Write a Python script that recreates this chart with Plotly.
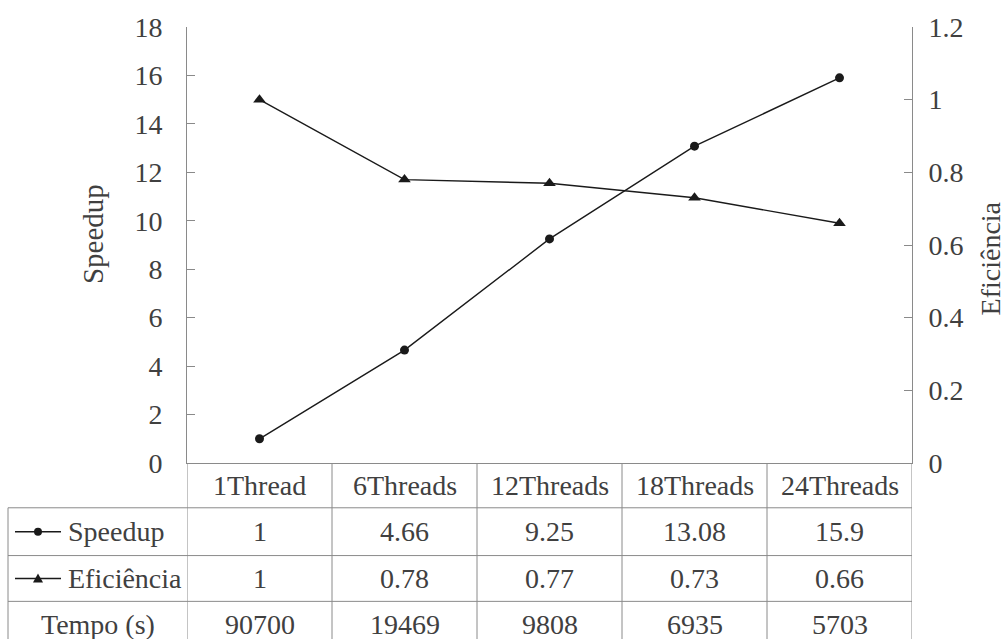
import plotly.graph_objects as go

# ---- data ----
categories = ["1Thread", "6Threads", "12Threads", "18Threads", "24Threads"]
speedup = [1, 4.66, 9.25, 13.08, 15.9]
eficiencia = [1, 0.78, 0.77, 0.73, 0.66]
tempo = [90700, 19469, 9808, 6935, 5703]
speedup_labels = ["1", "4.66", "9.25", "13.08", "15.9"]
eficiencia_labels = ["1", "0.78", "0.77", "0.73", "0.66"]
tempo_labels = ["90700", "19469", "9808", "6935", "5703"]
left_ticks = [0, 2, 4, 6, 8, 10, 12, 14, 16, 18]
right_ticks = [0, 0.2, 0.4, 0.6, 0.8, 1, 1.2]
right_tick_text = ["0", "0.2", "0.4", "0.6", "0.8", "1", "1.2"]

# ---- layout geometry (pixels) ----
W, H = 1007, 639
L, R, T, B = 187, 912, 25, 463
FONT = "Liberation Serif"
TXT = "#404040"
GRID = "#8a8a8a"
LINE = "#1a1a1a"


def px2x(px):
    return (px - L) / (R - L)


def py2y(py):
    return (B - py) / (B - T)


fig = go.Figure()
fig.add_trace(go.Scatter(
    x=categories, y=speedup, mode="lines+markers", name="Speedup",
    line=dict(color=LINE, width=1.4),
    marker=dict(symbol="circle", size=9, color=LINE),
    yaxis="y", showlegend=False, cliponaxis=False))
fig.add_trace(go.Scatter(
    x=categories, y=eficiencia, mode="lines+markers", name="Eficiência",
    line=dict(color=LINE, width=1.4),
    marker=dict(symbol="triangle-up", size=11, color=LINE),
    yaxis="y2", showlegend=False, cliponaxis=False))

shapes = []
annotations = []

# table geometry
row_edges = [B, 508, 556, 602, 648]
table_left = 8
line_style = dict(color=GRID, width=1)

for py in row_edges[1:]:
    shapes.append(dict(type="line", xref="paper", yref="paper",
                       x0=px2x(table_left), x1=1, y0=py2y(py), y1=py2y(py),
                       line=line_style, layer="above"))
shapes.append(dict(type="line", xref="paper", yref="paper",
                   x0=px2x(table_left), x1=px2x(table_left),
                   y0=py2y(row_edges[1]), y1=py2y(row_edges[-1]),
                   line=line_style))
for i in range(len(categories) + 1):
    shapes.append(dict(type="line", xref="x", yref="paper",
                       x0=i - 0.5, x1=i - 0.5,
                       y0=0, y1=py2y(row_edges[-1]),
                       line=line_style))

hdr_y = py2y((row_edges[0] + row_edges[1]) / 2)
for i, c in enumerate(categories):
    annotations.append(dict(x=c, xref="x", y=hdr_y, yref="paper", text=c,
                            showarrow=False, xanchor="center", yanchor="middle",
                            font=dict(family=FONT, size=28, color=TXT)))

rows = [speedup_labels, eficiencia_labels, tempo_labels]
for r, vals in enumerate(rows):
    cy = py2y((row_edges[r + 1] + row_edges[r + 2]) / 2)
    for i, v in enumerate(vals):
        annotations.append(dict(x=categories[i], xref="x", y=cy, yref="paper",
                                text=v, showarrow=False, xanchor="center",
                                yanchor="middle",
                                font=dict(family=FONT, size=28, color=TXT)))

row_names = ["Speedup", "Eficiência"]
for r, name in enumerate(row_names):
    cy_px = (row_edges[r + 1] + row_edges[r + 2]) / 2
    cy = py2y(cy_px)
    shapes.append(dict(type="line", xref="paper", yref="paper",
                       x0=px2x(15), x1=px2x(61), y0=cy, y1=cy,
                       line=dict(color=LINE, width=1.4)))
    mx = 38
    if r == 0:
        shapes.append(dict(type="circle", xref="paper", yref="paper",
                           x0=px2x(mx - 4), x1=px2x(mx + 4),
                           y0=py2y(cy_px + 4), y1=py2y(cy_px - 4),
                           fillcolor=LINE, line=dict(color=LINE, width=0)))
    else:
        path = "M {} {} L {} {} L {} {} Z".format(
            px2x(mx - 5), py2y(cy_px + 4), px2x(mx + 5), py2y(cy_px + 4),
            px2x(mx), py2y(cy_px - 5))
        shapes.append(dict(type="path", xref="paper", yref="paper", path=path,
                           fillcolor=LINE, line=dict(color=LINE, width=0)))
    annotations.append(dict(x=px2x(66), xref="paper", y=cy, yref="paper",
                            text=name, showarrow=False, xanchor="left",
                            yanchor="middle",
                            font=dict(family=FONT, size=28, color=TXT)))

annotations.append(dict(x=px2x((table_left + L) / 2), xref="paper",
                        y=py2y((row_edges[3] + row_edges[4]) / 2), yref="paper",
                        text="Tempo (s)", showarrow=False, xanchor="center",
                        yanchor="middle",
                        font=dict(family=FONT, size=28, color=TXT)))

annotations.append(dict(x=px2x(93), xref="paper", y=py2y(233), yref="paper",
                        text="Speedup", textangle=-90, showarrow=False,
                        xanchor="center", yanchor="middle",
                        font=dict(family=FONT, size=29, color=TXT)))
annotations.append(dict(x=px2x(1007), xref="paper", y=py2y(258), yref="paper",
                        text="Eficiência", textangle=-90, showarrow=False,
                        xanchor="right", yanchor="middle", borderpad=0,
                        font=dict(family=FONT, size=28, color=TXT)))

fig.update_layout(
    width=W, height=H,
    margin=dict(l=L, r=W - R, t=T, b=H - B, pad=0),
    paper_bgcolor="white", plot_bgcolor="white",
    font=dict(family=FONT, size=28, color=TXT),
    xaxis=dict(type="category", range=[-0.5, len(categories) - 0.5],
               showticklabels=False, ticks="", showgrid=False,
               showline=True, linecolor=GRID, linewidth=1, zeroline=False),
    yaxis=dict(range=[0, 18], tickvals=left_ticks, ticks="inside", ticklen=8,
               tickcolor=GRID, showgrid=False, zeroline=False,
               showline=True, linecolor=GRID, linewidth=1,
               tickfont=dict(family=FONT, size=28, color=TXT),
               ticklabelstandoff=18),
    yaxis2=dict(range=[0, 1.2], tickvals=right_ticks, ticktext=right_tick_text,
                overlaying="y", side="right", ticks="inside", ticklen=8,
                tickcolor=GRID, showgrid=False, zeroline=False,
                showline=True, linecolor=GRID, linewidth=1,
                tickfont=dict(family=FONT, size=28, color=TXT),
                ticklabelstandoff=10),
    shapes=shapes,
    annotations=annotations,
)

fig.write_html("out.html",
               config={"displayModeBar": False},
               post_script="document.body.style.margin='0';"
                           "document.body.style.overflow='hidden';")
